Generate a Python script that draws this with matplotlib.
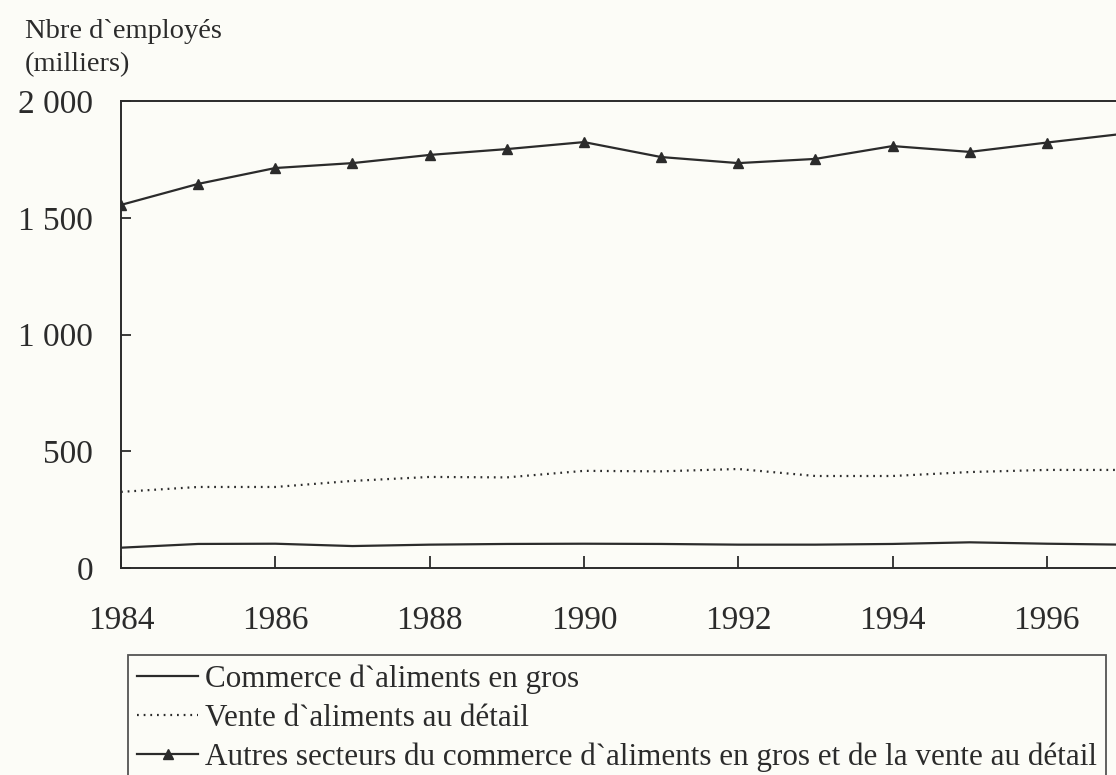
import matplotlib
matplotlib.use("Agg")
import matplotlib.pyplot as plt
from matplotlib.lines import Line2D

years = [1984, 1985, 1986, 1987, 1988, 1989, 1990, 1991, 1992, 1993, 1994, 1995, 1996, 1997]
gros = [87, 103, 104, 94, 100, 103, 104, 103, 100, 100, 103, 110, 104, 100]
detail = [326, 347, 347, 373, 390, 388, 416, 414, 424, 394, 394, 411, 420, 420]
autres = [1555, 1645, 1713, 1734, 1769, 1794, 1824, 1760, 1734, 1752, 1807, 1782, 1822, 1860]

labels = ["Commerce d`aliments en gros",
          "Vente d`aliments au détail",
          "Autres secteurs du commerce d`aliments en gros et de la vente au détail"]
xticks = [1984, 1986, 1988, 1990, 1992, 1994, 1996]
yticks = [0, 500, 1000, 1500, 2000]
ytick_labels = ["0", "500", "1 000", "1 500", "2 000"]
ylabel_lines = ["Nbre d`employés", "(milliers)"]

BG = "#fcfcf7"
INK = "#2b2b2b"
plt.rcParams['font.family'] = ['Liberation Serif', 'DejaVu Serif']

W, H = 1116, 775
fig = plt.figure(figsize=(W / 100, H / 100), dpi=100, facecolor=BG)
left, right_px = 121, 1124
top, bottom = 101, 568
ax = fig.add_axes([left / W, 1 - bottom / H, (right_px - left) / W, (bottom - top) / H])
ax.set_facecolor(BG)

ax.plot(years, gros, color=INK, lw=1.6, solid_capstyle='butt')
ax.plot(years, detail, color=INK, lw=1.6, linestyle=(0, (0.8, 2.2)))
ax.plot(years, autres, color=INK, lw=1.6, marker='^', markersize=6.5)

ax.set_xlim(1984, 1997)
ax.set_ylim(0, 2000)
ax.set_xticks(xticks)
ax.set_xticklabels([str(x) for x in xticks])
ax.set_yticks(yticks)
ax.set_yticklabels(ytick_labels)
ax.tick_params(axis='x', direction='in', length=9, width=1.3, color=INK,
               labelsize=24, labelcolor=INK, pad=27)
ax.tick_params(axis='y', direction='in', length=7, width=1.3, color=INK,
               labelsize=24, labelcolor=INK, pad=20)
for s in ax.spines.values():
    s.set_color(INK)
    s.set_linewidth(1.4)
ax.spines['right'].set_visible(False)

fig.text(25 / W, 1 - 31 / H, ylabel_lines[0], fontsize=20.5, color=INK, va='center', ha='left')
fig.text(25 / W, 1 - 65 / H, ylabel_lines[1], fontsize=20.5, color=INK, va='center', ha='left')

handles = [
    Line2D([], [], color=INK, lw=1.6),
    Line2D([], [], color=INK, lw=1.6, linestyle=(0, (0.8, 2.2))),
    Line2D([], [], color=INK, lw=1.6, marker='^', markersize=6.5),
]
leg = fig.legend(handles, labels, loc='upper left',
                 bbox_to_anchor=(128 / W, 1 - 655 / H), bbox_transform=fig.transFigure,
                 fontsize=22.4, frameon=True, fancybox=False, borderaxespad=0,
                 handlelength=1.95, handletextpad=0.22, borderpad=0.3, labelspacing=0.32)
leg.get_frame().set_edgecolor(INK)
leg.get_frame().set_linewidth(1.3)
leg.get_frame().set_facecolor(BG)
for t in leg.get_texts():
    t.set_color(INK)

fig.savefig("out.png", dpi=100, facecolor=BG)
